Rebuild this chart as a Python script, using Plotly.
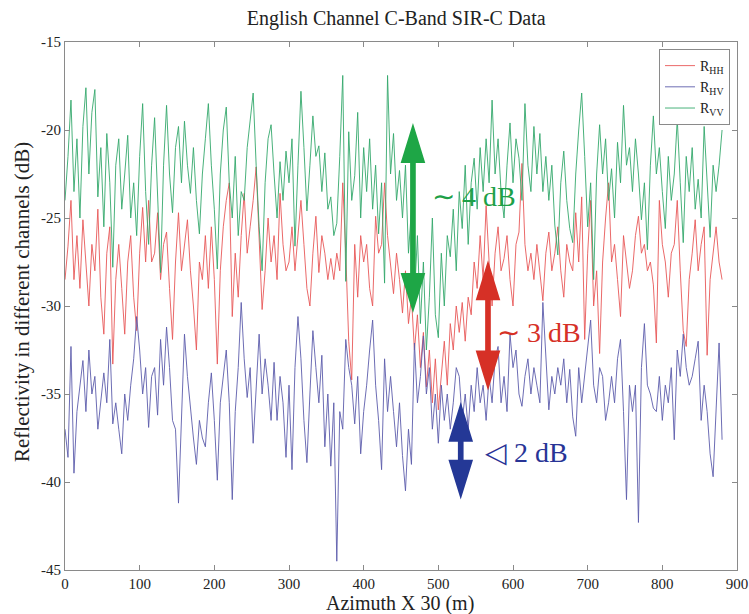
import plotly.graph_objects as go

# Azimuth sample positions (x 30 m)
AZIMUTH = list(range(0, 881, 4))

R_HH = [
    -28.5, -26.6, -24.0, -28.5, -26.0, -29.0, -25.1, -27.5, -30.0, -26.5,
    -28.0, -24.5, -29.5, -31.6, -27.0, -25.5, -33.3, -28.5, -26.5, -29.0,
    -31.6, -27.5, -26.0, -29.5, -31.4, -27.0, -24.4, -27.5, -24.0, -27.5,
    -27.0, -24.7, -28.5, -26.5, -25.8, -29.0, -31.9, -27.5, -24.7, -28.0,
    -26.5, -25.1, -28.0, -30.0, -32.5, -27.5, -28.5, -26.0, -29.0, -25.5,
    -28.5, -33.3, -28.0, -25.5, -24.0, -23.0, -30.6, -27.0, -29.5, -26.0,
    -23.6, -27.0, -25.5, -24.0, -22.1, -26.5, -30.2, -28.0, -25.0, -27.5,
    -26.0, -28.5, -23.6, -26.5, -28.0, -27.5, -25.5, -28.0, -26.0, -24.0,
    -26.5, -29.0, -30.0, -27.0, -24.9, -28.1, -26.0, -27.0, -28.5, -27.3,
    -28.5, -27.0, -28.0, -23.0, -27.0, -32.0, -34.2, -26.5, -29.5, -26.0,
    -27.5, -26.5, -29.0, -30.0, -24.9, -27.0, -26.5, -23.0, -26.0, -27.5,
    -29.3, -27.0, -28.5, -30.4, -28.0, -31.0, -29.5, -32.5, -30.5, -33.5,
    -31.5, -34.6, -32.5, -35.5, -33.0, -35.9, -34.0, -32.0, -34.5, -31.0,
    -32.5, -30.0, -31.5, -29.8, -32.0, -29.5, -30.5, -27.5, -29.0, -26.0,
    -28.5, -24.3, -27.5, -30.0, -27.0, -25.5, -28.0, -27.3, -26.0, -28.5,
    -30.0, -26.5, -25.8, -21.9, -26.5, -28.0, -27.0, -28.5, -26.5, -28.0,
    -29.7, -27.0, -25.8, -28.0, -27.0, -25.5, -28.0, -29.5, -26.5, -27.5,
    -28.0, -24.7, -27.5, -23.8, -31.9, -27.0, -24.0, -30.0, -28.0, -32.7,
    -27.5, -25.0, -23.0, -27.5, -26.5, -28.5, -30.6, -26.0, -27.5, -29.0,
    -28.0, -26.0, -24.9, -27.0, -26.5, -28.0, -27.5, -28.8, -32.1, -24.0,
    -26.5, -27.5, -29.5, -27.0, -26.5, -24.0, -28.0, -31.4, -32.3, -28.5,
    -27.0, -25.1, -28.0, -26.5, -25.5, -32.8, -28.5, -27.0, -25.5, -27.5,
    -28.5,
]

R_HV = [
    -37.0, -38.6, -32.3, -39.5, -36.0, -34.5, -33.1, -36.0, -32.5, -35.0,
    -34.0, -37.0, -35.5, -33.8, -35.5, -31.9, -36.7, -35.5, -37.0, -38.4,
    -35.0, -36.5, -34.5, -33.0, -30.6, -32.5, -35.0, -33.5, -36.9, -34.0,
    -33.5, -36.2, -31.9, -34.5, -31.2, -33.5, -36.5, -37.0, -41.2, -36.0,
    -31.6, -34.0, -36.0, -37.5, -39.0, -36.5, -37.5, -38.0, -35.5, -33.8,
    -36.5, -39.9, -35.5, -34.0, -32.5, -35.5, -41.0, -36.0, -33.5, -29.8,
    -33.0, -35.2, -33.5, -37.8, -34.5, -31.6, -35.0, -33.0, -34.5, -36.5,
    -33.2, -36.5, -34.0, -35.5, -38.6, -34.5, -39.3, -33.5, -30.6, -33.0,
    -36.5, -38.9, -35.0, -31.4, -33.5, -35.5, -32.8, -38.0, -35.0, -39.1,
    -35.5, -44.5, -36.0, -37.0, -31.9, -33.5, -34.5, -36.7, -34.0, -38.4,
    -36.0, -34.5, -32.5, -30.8, -34.5, -36.5, -39.3, -33.0, -36.0, -34.0,
    -36.0, -38.0, -35.5, -38.5, -40.5, -37.0, -39.0, -32.1, -35.5, -34.0,
    -31.7, -35.0, -33.5, -37.0, -35.0, -37.8, -34.5, -36.5, -35.0, -37.0,
    -35.5, -33.5, -34.0, -36.5, -35.0, -37.0, -34.5, -36.0, -33.5, -35.5,
    -34.5, -36.5, -34.0, -35.5, -33.0, -32.3, -35.5, -34.0, -36.0, -31.6,
    -33.5, -32.5, -35.0, -35.7, -34.0, -33.0, -35.0, -33.5, -34.5, -35.5,
    -29.8, -33.0, -35.9, -34.0, -35.0, -33.5, -34.5, -33.0, -35.5, -33.6,
    -36.3, -37.4, -33.5, -35.5, -34.0, -32.5, -30.8, -34.5, -35.5, -33.5,
    -34.0, -36.5, -35.5, -34.0, -35.5, -33.0, -31.9, -36.0, -41.0, -34.5,
    -36.0, -34.5, -42.3, -33.5, -31.0, -34.5, -35.0, -35.8, -36.0, -34.0,
    -36.5, -34.5, -35.5, -33.5, -37.6, -32.5, -34.0, -31.6, -33.5, -34.5,
    -34.0, -33.0, -32.0, -36.5, -34.5, -36.0, -38.4, -39.7, -35.5, -32.1,
    -37.6,
]

R_VV = [
    -24.0, -21.5, -18.3, -23.5, -20.5, -25.0, -19.8, -17.6, -22.5, -19.0,
    -17.7, -23.8, -21.0, -25.5, -20.2, -23.0, -27.8, -22.0, -20.5, -24.5,
    -22.5, -20.3, -25.0, -23.0, -26.0, -21.5, -18.5, -23.5, -26.5, -22.0,
    -19.3, -24.0, -28.1, -22.0, -18.6, -22.5, -24.7, -21.0, -19.8, -23.0,
    -19.5, -22.0, -23.6, -21.0, -24.0, -25.9, -22.5, -20.5, -18.5, -22.0,
    -24.5, -27.9, -22.5, -20.0, -18.7, -23.0, -25.0, -21.5, -26.0, -23.5,
    -24.0, -21.0, -19.5, -17.9, -22.0, -25.5, -28.0, -23.0, -20.5, -19.7,
    -22.5, -25.0, -21.8, -24.0, -21.2, -23.0, -20.5, -26.6, -22.0, -17.8,
    -21.0, -24.6, -22.0, -19.2, -21.5, -20.9, -23.5, -21.3, -24.5, -23.8,
    -26.0, -25.3, -21.5, -16.9, -28.6, -20.1, -24.0, -22.6, -19.0, -25.0,
    -21.0, -23.5, -20.5, -24.5, -22.0, -25.9, -23.0, -28.7, -16.9, -22.5,
    -20.2, -24.0, -22.3, -25.0, -22.0, -27.0, -24.5, -29.5, -26.0, -31.0,
    -27.5, -32.5, -29.5, -25.0, -30.5, -31.8, -27.0, -30.0, -26.0, -27.2,
    -24.5, -28.0, -23.5, -25.6, -22.0, -26.5, -23.0, -21.6, -24.5, -21.0,
    -23.5, -20.5, -23.0, -18.3, -22.5, -20.5, -23.5, -25.0, -22.0, -19.6,
    -23.0, -20.5, -21.6, -24.0, -18.5, -22.0, -23.5, -19.8, -22.5, -20.2,
    -23.5, -21.5, -24.0, -22.0, -25.4, -27.1, -23.0, -21.2, -24.0, -25.6,
    -26.4, -22.5, -20.0, -17.9, -21.5, -25.5, -23.0, -28.5, -22.5, -19.7,
    -22.5, -20.5, -24.0, -22.2, -25.0, -20.7, -23.0, -18.6, -22.0, -21.0,
    -23.5, -20.5, -22.5, -25.1, -23.0, -26.8, -22.0, -19.2, -22.5, -21.0,
    -23.5, -25.6, -21.5, -24.0, -22.5, -19.4, -23.0, -26.4, -21.5, -23.5,
    -21.0, -24.5, -22.8, -25.0, -19.8, -23.0, -26.1, -22.0, -23.5, -22.0,
    -20.0,
]

SERIES_NAMES = ["R<sub>HH</sub>", "R<sub>HV</sub>", "R<sub>VV</sub>"]
SERIES_COLORS = ["rgb(232,88,88)", "rgb(92,92,172)", "rgb(52,168,108)"]

X_TICKS = [0, 100, 200, 300, 400, 500, 600, 700, 800, 900]
X_TICKTEXT = ["0", "100", "200", "300", "400", "500", "600", "700", "800", "900"]
Y_TICKS = [-45, -40, -35, -30, -25, -20, -15]
Y_TICKTEXT = ["-45", "-40", "-35", "-30", "-25", "-20", "-15"]

# annotation arrows: (x, top tip, bottom tip, colour)
ARROW_X = [466, 566.5, 530]
ARROW_TOP = [-19.6, -27.4, -35.45]
ARROW_BOT = [-30.4, -34.8, -41.0]
ARROW_COLORS = ["rgb(30,166,70)", "rgb(214,48,38)", "rgb(36,56,150)"]
LABELS = ["\u223c 4 dB", "\u223c 3 dB", "\u25c1 2 dB"]
LABEL_X = [489, 576, 560]
LABEL_Y = [-23.8, -31.5, -38.35]
LABEL_COLORS = ["rgb(30,160,72)", "rgb(214,48,38)", "rgb(40,52,150)"]

FONT = "Liberation Serif, Times New Roman, serif"

fig = go.Figure()
for name, vals, col in zip(SERIES_NAMES, [R_HH, R_HV, R_VV], SERIES_COLORS):
    fig.add_trace(go.Scatter(x=AZIMUTH, y=vals, mode="lines", name=name,
                             line=dict(color=col, width=0.9)))

HEAD_LEN = 2.27
HEAD_HW = 16.5
SHAFT_HW = 3.8
shapes = []
for x, yt, yb, col in zip(ARROW_X, ARROW_TOP, ARROW_BOT, ARROW_COLORS):
    path = (f"M{x},{yt} L{x+HEAD_HW},{yt-HEAD_LEN} L{x+SHAFT_HW},{yt-HEAD_LEN} "
            f"L{x+SHAFT_HW},{yb+HEAD_LEN} L{x+HEAD_HW},{yb+HEAD_LEN} L{x},{yb} "
            f"L{x-HEAD_HW},{yb+HEAD_LEN} L{x-SHAFT_HW},{yb+HEAD_LEN} "
            f"L{x-SHAFT_HW},{yt-HEAD_LEN} L{x-HEAD_HW},{yt-HEAD_LEN} Z")
    shapes.append(dict(type="path", path=path, xref="x", yref="y",
                       fillcolor=col, line=dict(width=0), layer="above"))

annotations = []
for t, x, y, col in zip(LABELS, LABEL_X, LABEL_Y, LABEL_COLORS):
    annotations.append(dict(text=t, x=x, y=y, xref="x", yref="y",
                            xanchor="left", yanchor="middle", showarrow=False,
                            font=dict(family=FONT, size=28, color=col)))

# axis titles placed as paper-anchored text
annotations.append(dict(text="Azimuth X 30 (m)", x=0.4985, y=-0.064,
                        xref="paper", yref="paper", xanchor="center", yanchor="middle",
                        showarrow=False, font=dict(family=FONT, size=20, color="#222")))
annotations.append(dict(text="Reflectivity in different channels (dB)", x=-0.064, y=0.5076,
                        xref="paper", yref="paper", xanchor="center", yanchor="middle",
                        textangle=-90, showarrow=False,
                        font=dict(family=FONT, size=21, color="#222")))

axis_common = dict(showline=True, linecolor="#8a8a8a", linewidth=1, mirror="ticks",
                   ticks="inside", ticklen=5, tickcolor="#8a8a8a", showgrid=False,
                   zeroline=False, automargin=False, ticklabeloverflow="allow",
                   tickfont=dict(family=FONT, size=15, color="#222"))

fig.update_layout(
    width=749, height=614,
    margin=dict(l=65, r=12, t=42, b=44),
    paper_bgcolor="white", plot_bgcolor="white",
    title=dict(text="English Channel C-Band SIR-C Data", x=0.529, xanchor="center",
               y=0.9707, yanchor="middle", yref="container",
               font=dict(family=FONT, size=20, color="#222")),
    xaxis=dict(range=[0, 900], tickvals=X_TICKS, ticktext=X_TICKTEXT, **axis_common),
    yaxis=dict(range=[-45, -15], tickvals=Y_TICKS, ticktext=Y_TICKTEXT, **axis_common),
    legend=dict(x=0.9896, y=0.9867, xanchor="right", yanchor="top",
                bgcolor="white", bordercolor="#8a8a8a", borderwidth=1,
                font=dict(family=FONT, size=14, color="#222"),
                itemwidth=30, tracegroupgap=0),
    shapes=shapes,
    annotations=annotations,
    showlegend=True,
)

# remove the page's default body margin so the figure fills the window exactly
fig.write_html("out.html",
               config={"displayModeBar": False},
               post_script="document.body.style.margin='0';document.body.style.overflow='hidden';")
